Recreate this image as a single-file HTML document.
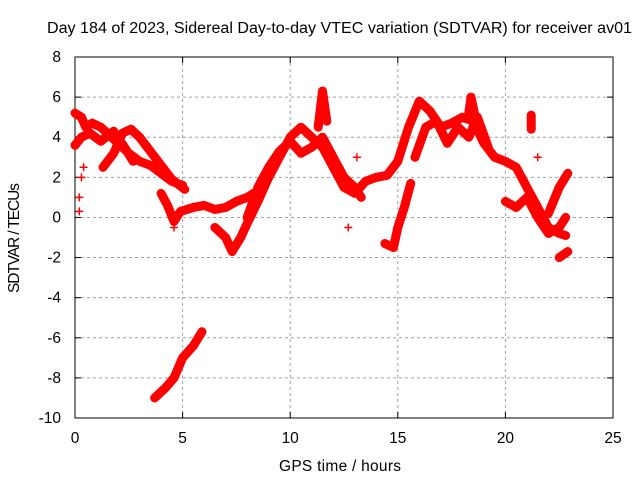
<!DOCTYPE html>
<html><head><meta charset="utf-8"><style>
body{margin:0;background:#fff;font-family:"Liberation Sans",sans-serif}
svg text{font-family:"Liberation Sans",sans-serif;font-size:15.5px;fill:#000}
</style></head><body>
<svg id="chart" width="640" height="480" xmlns="http://www.w3.org/2000/svg">
<rect width="640" height="480" fill="#fff"/>
<text x="47" y="33" textLength="585" lengthAdjust="spacingAndGlyphs">Day 184 of 2023, Sidereal Day-to-day VTEC variation (SDTVAR) for receiver av01</text>
<g id="grid"></g>
<g id="axes"></g>
<g id="marks"></g>
<text x="340" y="471" text-anchor="middle" textLength="122">GPS time / hours</text>
<text transform="translate(19,238) rotate(-90)" text-anchor="middle" textLength="110">SDTVAR / TECUs</text>
</svg>
<script>
const xTicks=[0,5,10,15,20,25];
const yTicks=[8,6,4,2,0,-2,-4,-6,-8,-10];
const trackA=[[0,5.2],[0.3,5.0],[0.5,4.5],[0.8,4.7],[1.2,4.5],[1.5,4.2],[2,3.7],[2.5,3.2],[3,2.8],[3.5,2.6],[4,2.2],[4.5,1.8],[5,1.6]];
const trackB=[[1.3,2.5],[1.8,3.2],[2.2,4.2],[2.6,4.4],[3.0,4.0],[3.5,3.3],[4.0,2.6],[4.5,1.9],[5.1,1.4]];
const trackC=[[0,3.6],[0.3,4.0],[0.7,4.2],[1.2,3.8],[1.8,4.3],[2.3,3.5],[2.7,2.8]];
const trackD=[[4,1.2],[4.3,0.6],[4.6,-0.2],[4.9,0.3],[5.5,0.5],[6,0.6],[6.5,0.4],[7,0.5],[7.5,0.8],[8,1.0],[8.3,1.2]];
const trackE=[[6.5,-0.5],[7,-1.0],[7.3,-1.7],[7.7,-1.0],[8,-0.3],[8.5,0.8],[9,2],[9.5,3.0],[10,4.0],[10.5,4.5],[11,4.0],[11.5,3.5],[12,2.5],[12.5,1.5],[13,1.2],[13.5,1.8],[14,2.0],[14.5,2.1],[15,2.8],[15.5,4.5],[16,5.8],[16.5,5.3],[17,4.5],[17.5,4.7],[18,5.0],[18.5,4.8],[19,3.7],[19.5,3.0],[20,2.8],[20.5,2.5],[21,1.5],[21.5,0.5],[22,-0.5],[22.5,-0.8],[22.8,-0.9]];
const trackF=[[8,0],[8.5,1.5],[9,2.5],[9.5,3.3],[10,3.8],[10.5,3.2],[11,3.5],[11.5,4.0],[12,3.0],[12.5,2.0],[13,1.5],[13.3,1.0]];
const trackG=[[15.8,3.0],[16.3,4.5],[16.8,4.8],[17.3,3.7],[17.8,4.5],[18.3,4.0],[18.7,5.0],[19.2,3.5]];
const trackH=[[20,0.8],[20.5,0.5],[21,1.0],[21.5,0],[22,-0.8],[22.5,-0.5],[22.8,0]];
const trackI=[[22,0.2],[22.5,1.5],[22.9,2.2]];
const trackJ=[[22.5,-2.0],[22.9,-1.7]];
const trackK=[[14.4,-1.3],[14.8,-1.5],[15,-0.5],[15.3,0.5],[15.6,1.7]];
const trackL=[[3.7,-9.0],[4.2,-8.5],[4.6,-8.0],[5,-7.0],[5.5,-6.4],[5.9,-5.7]];
const trackM=[[11.3,4.5],[11.5,6.3],[11.7,4.8]];
const trackN=[[18.3,5.2],[18.4,6.0],[18.6,5.0]];
const trackO=[[21.2,4.4],[21.2,5.1]];
const outliers=[[0.2,1.0],[0.2,0.3],[0.3,2.0],[0.4,2.5],[12.7,-0.5],[13.1,3.0],[21.5,3.0],[4.6,-0.5]];
const tracks=[trackA,trackB,trackC,trackD,trackE,trackF,trackG,trackH,trackI,trackJ,trackK,trackL,trackM,trackN,trackO];
const X=h=>75+h*(613-75)/25;
const Y=v=>57+(8-v)*(418-57)/18;
const NS="http://www.w3.org/2000/svg";
function mk(tag,attrs,parent){const e=document.createElementNS(NS,tag);for(const k in attrs)e.setAttribute(k,attrs[k]);parent.appendChild(e);return e;}
const grid=document.getElementById('grid'),axes=document.getElementById('axes'),marks=document.getElementById('marks');
xTicks.forEach(t=>{
 if(t>0&&t<25){const l=mk('line',{x1:X(t),x2:X(t),y1:57,y2:418,stroke:'#a0a0a0','stroke-dasharray':'3,3'},grid);
 
 }
 mk('line',{x1:X(t),x2:X(t),y1:418,y2:412,stroke:'#000'},axes);
 mk('line',{x1:X(t),x2:X(t),y1:57,y2:63,stroke:'#000'},axes);
 const tx=mk('text',{x:X(t),y:443,'text-anchor':'middle'},axes);tx.textContent=t;
 
 
});
yTicks.forEach(t=>{
 if(t<8&&t>-10){const l=mk('line',{x1:75,x2:613,y1:Y(t),y2:Y(t),stroke:'#a0a0a0','stroke-dasharray':'3,3'},grid);
 
 }
 mk('line',{x1:75,x2:81,y1:Y(t),y2:Y(t),stroke:'#000'},axes);
 mk('line',{x1:607,x2:613,y1:Y(t),y2:Y(t),stroke:'#000'},axes);
 const tx=mk('text',{x:61,y:Y(t)+5,'text-anchor':'end'},axes);tx.textContent=t;
 
 
});
mk('rect',{x:75,y:57,width:538,height:361,fill:'none',stroke:'#000'},axes);
tracks.forEach(tr=>{
 const p=mk('polyline',{points:tr.map(d=>X(d[0])+','+Y(d[1])).join(' '),fill:'none',stroke:'#f00','stroke-width':9,'stroke-linejoin':'round','stroke-linecap':'round'},marks);
 
 
});
function plus(d){
 const g=mk('path',{d:`M${X(d[0])-4},${Y(d[1])}h8M${X(d[0])},${Y(d[1])-4}v8`,stroke:'#f00','stroke-width':1.5},marks);
 
 
}
tracks.forEach(tr=>tr.forEach(plus));
outliers.forEach(plus);
</script>
</body></html>
